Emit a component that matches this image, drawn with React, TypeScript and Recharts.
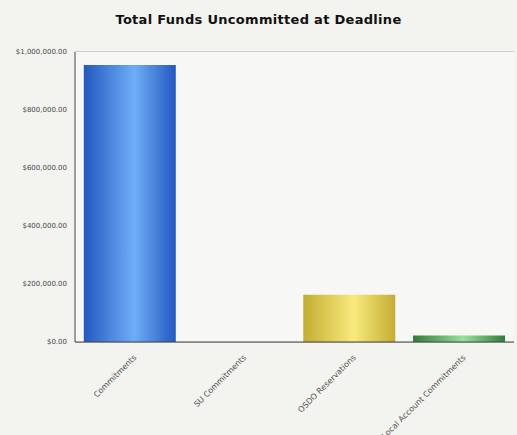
import React from "react";
import { BarChart, Bar, XAxis, YAxis, CartesianGrid, Cell } from "recharts";

const categories = ["Commitments", "SU Commitments", "OSDO Reservations", "Local Account Commitments"];
const amounts = [955000, 0, 163000, 22000];
const yTicks = [0, 200000, 400000, 600000, 800000, 1000000];

const gradients = [
  { id: "gBlue", edge: "#2458bf", mid: "#6eaef7" },
  { id: "gBlue2", edge: "#2458bf", mid: "#6eaef7" },
  { id: "gYellow", edge: "#c3ad32", mid: "#f8ea7e" },
  { id: "gGreen", edge: "#2f7d3a", mid: "#95e29c" },
];

const data = categories.map((name, i) => ({ name, value: amounts[i] }));

const money = (v: number) =>
  "$" + v.toLocaleString("en-US", { minimumFractionDigits: 2, maximumFractionDigits: 2 });

function AngledTick({ x, y, payload }: any) {
  return (
    <g transform={`translate(${x + 7},${y + 8})`}>
      <text
        textAnchor="end"
        transform="rotate(-45)"
        fontSize={8}
        fill="#555"
        fontFamily="DejaVu Sans, sans-serif"
      >
        {payload.value}
      </text>
    </g>
  );
}

export default function App() {
  return (
    <div style={{ position: "fixed", left: 0, top: 0, width: 517, height: 435, background: "#f3f3ef" }}>
      <div
        style={{
          position: "absolute",
          top: 12,
          width: 517,
          textAlign: "center",
          fontFamily: "DejaVu Sans, sans-serif",
          fontWeight: "bold",
          fontSize: 13,
          letterSpacing: 0.3,
          color: "#111",
        }}
      >
        Total Funds Uncommitted at Deadline
      </div>
      <BarChart
        width={517}
        height={435}
        data={data}
        margin={{ top: 52, right: 3, left: 0, bottom: 0 }}
        barCategoryGap="8%"
      >
        <defs>
          {gradients.map((g) => (
            <linearGradient key={g.id} id={g.id} x1="0" y1="0" x2="1" y2="0">
              <stop offset="0%" stopColor={g.edge} />
              <stop offset="55%" stopColor={g.mid} />
              <stop offset="100%" stopColor={g.edge} />
            </linearGradient>
          ))}
        </defs>
        <rect x={75} y={52} width={439} height={290} fill="#f7f7f5" />
        <CartesianGrid vertical={false} stroke="#8f8f8f" strokeWidth={0.8} />
        <XAxis
          dataKey="name"
          height={93}
          interval={0}
          tick={<AngledTick />}
          tickLine={false}
          axisLine={{ stroke: "#444" }}
        />
        <YAxis
          width={75}
          domain={[0, 1000000]}
          ticks={yTicks}
          tickFormatter={money}
          tick={{ fontSize: 7, fill: "#4a4a4a", fontFamily: "DejaVu Sans, sans-serif" }}
          tickLine={false}
          axisLine={{ stroke: "#444" }}
        />
        <Bar dataKey="value" isAnimationActive={false}>
          {data.map((d, i) => (
            <Cell key={d.name} fill={`url(#${gradients[i].id})`} />
          ))}
        </Bar>
      </BarChart>
    </div>
  );
}
